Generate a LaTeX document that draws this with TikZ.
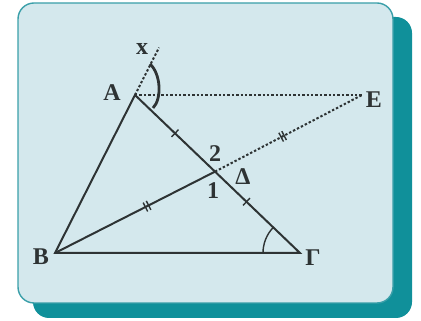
\documentclass[tikz,border=0pt]{standalone}
\usepackage{fontspec}
\setmainfont{Liberation Serif}
\usetikzlibrary{calc}
\definecolor{ink}{HTML}{2E3334}
\definecolor{panel}{HTML}{D4E8ED}
\definecolor{panelrim}{HTML}{3A9FA9}
\definecolor{shadowteal}{HTML}{10909A}
\begin{document}
\begin{tikzpicture}[x=1pt,y=1pt,
  seg/.style={draw=ink, line width=2pt, line cap=round},
  dotseg/.style={draw=ink, line width=2pt, dash pattern=on 2.4pt off 2pt},
  tickmark/.style={draw=ink, line width=1.4pt},
  lbl/.style={text=ink, font=\fontsize{24}{28}\selectfont\bfseries, inner sep=0pt}]
\useasboundingbox (0,0) rectangle (421,321);
% background panel with shadow
\fill[shadowteal, rounded corners=16pt] (33,3) rectangle (412,304);
\draw[fill=panel, draw=panelrim, line width=1.4pt, rounded corners=16pt] (18,18) rectangle (393,318);
% points
\coordinate (A) at (135,226);
\coordinate (B) at (55,68);
\coordinate (G) at (300,68);
\coordinate (D) at ($(A)!0.485!(G)$);
\coordinate (E) at (362,226);
\coordinate (X) at ($(B)!1.3!(A)$);
% dotted lines
\draw[dotseg] (A) -- (X);
\draw[dotseg] (A) -- (E);
\draw[dotseg] (D) -- (E);
% triangle and median
\draw[seg] (A) -- (B) -- (G) -- cycle;
\draw[seg] (B) -- (D);
% single ticks
\coordinate (t1) at ($(A)!0.5!(D)$);
\draw[tickmark] ($(t1)!5pt!90:(D)$) -- ($(t1)!5pt!-90:(D)$);
\coordinate (t2) at ($(D)!0.37!(G)$);
\draw[tickmark] ($(t2)!5pt!90:(G)$) -- ($(t2)!5pt!-90:(G)$);
% double ticks
\coordinate (t3a) at ($(B)!0.565!(D)$);
\coordinate (t3b) at ($(B)!0.585!(D)$);
\draw[tickmark] ($(t3a)!5pt!90:(D)$) -- ($(t3a)!5pt!-90:(D)$);
\draw[tickmark] ($(t3b)!5pt!90:(D)$) -- ($(t3b)!5pt!-90:(D)$);
\coordinate (t4a) at ($(D)!0.45!(E)$);
\coordinate (t4b) at ($(D)!0.47!(E)$);
\draw[tickmark] ($(t4a)!5pt!90:(E)$) -- ($(t4a)!5pt!-90:(E)$);
\draw[tickmark] ($(t4b)!5pt!90:(E)$) -- ($(t4b)!5pt!-90:(E)$);
% angle at Gamma
\draw[draw=ink, line width=1.4pt] ($(G)+(180:37pt)$) arc[start angle=180, end angle=136.2, radius=37pt];
% angle at A (exterior)
\draw[draw=ink, line width=2.8pt] (150,257) .. controls (161,247) and (162,222) .. (153,213);
% labels
\node[lbl] (lA) at (112,228) {A};
\node[lbl] (lB) at (41,64) {B};
\node[lbl] (lG) at (313,63) {Γ};
\node[lbl] (lE) at (374,221) {E};
\node[lbl] (lD) at (243,144) {Δ};
\node[lbl] (l2) at (215,167) {2};
\node[lbl] (l1) at (213,130) {1};
\node[lbl] (lx) at (142,272) {x};
\end{tikzpicture}
\end{document}
